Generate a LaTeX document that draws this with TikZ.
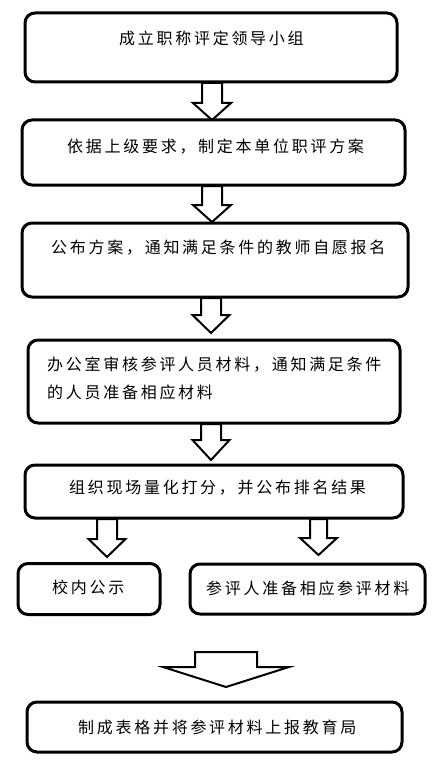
\documentclass[tikz,border=0pt]{standalone}
\usepackage{fontspec}
\newfontfamily\cjk[LetterSpace=17]{Noto Sans CJK SC}
\newcommand\bkarrow[6]{% cx, top, heady, tip, shaft half, head half
  \draw[barrow] ({#1-#5},#2) -- ({#1-#5},#3) -- ({#1-#6},#3) -- (#1,#4) -- ({#1+#6},#3) -- ({#1+#5},#3) -- ({#1+#5},#2) -- cycle;}
\begin{document}
\begin{tikzpicture}[x=1pt,y=-1pt,
  box/.style={draw, line width=3pt, rounded corners=10pt, inner sep=0pt},
  lbl/.style={anchor=west, inner sep=0pt, font=\cjk\fontsize{16}{19}\selectfont},
  barrow/.style={draw, line width=2pt, fill=white, line join=miter}]
\useasboundingbox (0,0) rectangle (436,778);
% block arrows
\bkarrow{212}{83}{103}{120}{10}{19}
\bkarrow{212}{186}{205}{222}{10}{19}
\bkarrow{211}{298}{315}{333}{10}{18.5}
\bkarrow{211}{424}{440}{460}{10}{18.5}
\bkarrow{107}{519}{539}{557}{10}{18.5}
\bkarrow{318.5}{519}{538}{555}{8.5}{18.5}
\bkarrow{226}{652}{667}{687}{31}{63}
% boxes
\node[box, minimum width=372pt, minimum height=69pt] (b1) at (211,47.5) {};
\node[box, minimum width=383pt, minimum height=65pt] (b2) at (213.5,152.5) {};
\node[box, minimum width=386pt, minimum height=74pt] (b3) at (215,260) {};
\node[box, minimum width=372pt, minimum height=83pt] (b4) at (214,381.5) {};
\node[box, minimum width=378pt, minimum height=53pt] (b5) at (214,491.5) {};
\node[box, minimum width=142pt, minimum height=51pt] (b6) at (89,589) {};
\node[box, minimum width=235pt, minimum height=50pt] (b7) at (307.5,589) {};
\node[box, minimum width=375pt, minimum height=50pt] (b8) at (214.5,727) {};
% labels
\node[lbl] (t1) at (119,38) {成立职称评定领导小组};
\node[lbl] (t2) at (67,147) {依据上级要求，制定本单位职评方案};
\node[lbl] (t3) at (51,248) {公布方案，通知满足条件的教师自愿报名};
\node[lbl] (t4a) at (47,365) {办公室审核参评人员材料，通知满足条件};
\node[lbl] (t4b) at (47,392) {的人员准备相应材料};
\node[lbl] (t5) at (69,488) {组织现场量化打分，并公布排名结果};
\node[lbl] (t6) at (52,587) {校内公示};
\node[lbl] (t7) at (206,588) {参评人准备相应参评材料};
\node[lbl] (t8) at (78,727) {制成表格并将参评材料上报教育局};
\end{tikzpicture}
\end{document}
